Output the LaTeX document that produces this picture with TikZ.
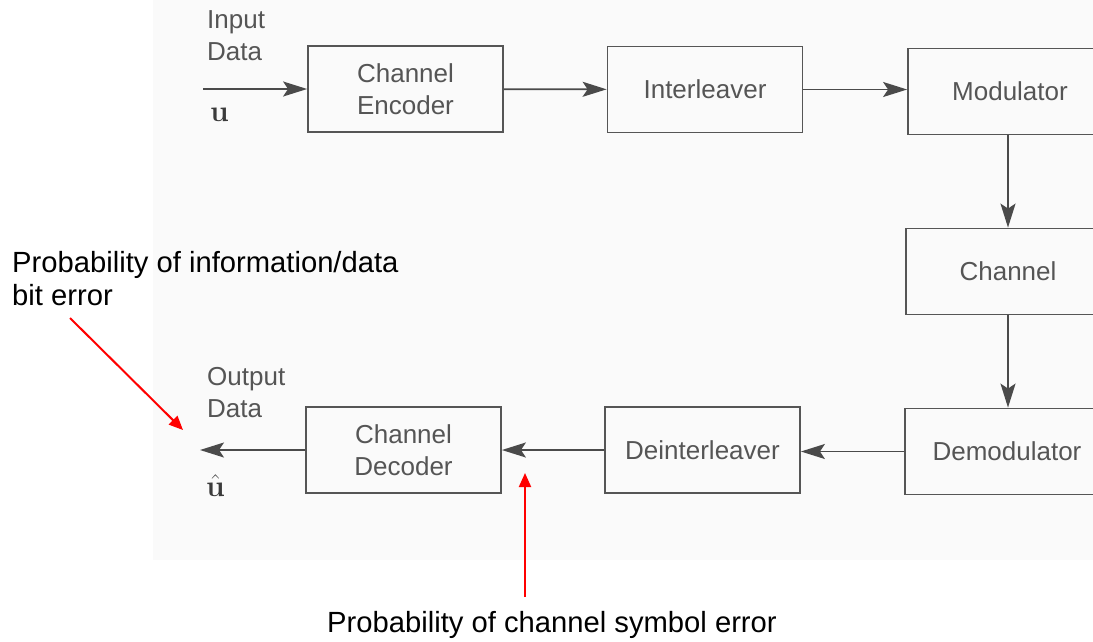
\RequirePackage{fix-cm}
\documentclass[tikz,border=0pt]{standalone}
\usepackage[no-math]{fontspec}
\setmainfont{Liberation Sans}
\usetikzlibrary{arrows.meta}
\definecolor{scan}{HTML}{FAFAFA}
\definecolor{ink}{HTML}{555555}
\definecolor{wire}{HTML}{4A4A4A}
\tikzset{
  block/.style = {draw=ink, line width=1.8pt, minimum width=195pt, minimum height=86pt, inner sep=0pt, align=center, text=ink, font=\fontsize{26}{32}\selectfont},
  wblock/.style = {block, minimum width=204pt},
  tag/.style = {anchor=base west, inner sep=0pt, align=left, text=ink, font=\fontsize{26}{32}\selectfont},
  sym/.style = {anchor=base west, inner sep=0pt, text=ink!70!black, font=\fontsize{30}{30}\selectfont},
  flow/.style = {draw=wire, line width=1.8pt, -{Stealth[length=24pt,width=15pt,inset=5pt]}},
  note/.style = {anchor=base west, inner sep=0pt, align=left, font=\fontsize{29.2}{33}\selectfont},
  pointer/.style = {draw=red, line width=2pt, -{Triangle[length=14pt,width=12pt]}},
}

\begin{document}
\begin{tikzpicture}[x=1pt,y=-1pt]
\useasboundingbox (0,0) rectangle (1093,641);
\fill [scan] (153,0) rectangle (1093,560);

% transmitter side
\node [block] (enc) at (405.5,89) {Channel\\Encoder};
\node [block] (intl) at (705,89.5) {Interleaver};
\node [wblock] (mod) at (1010,91.5) {Modulator};
\node [wblock] (chan) at (1008,271.5) {Channel};
% receiver side
\node [wblock] (demod) at (1007,451.5) {Demodulator};
\node [block] (deint) at (702.5,450) {Deinterleaver};
\node [block] (dec) at (403.5,450) {Channel\\Decoder};

\coordinate (src) at (203,89);
\coordinate (sink) at (200,450);

\draw [flow] (src) -- (enc.west);
\draw [flow] (enc) -- (intl);
\draw [flow] (intl.east) -- (intl.east -| mod.west);
\draw [flow] (mod.south -| chan.north) -- (chan.north);
\draw [flow] (chan.south) -- (chan.south |- demod.north);
\draw [flow] (demod.west) -- (demod.west -| deint.east);
\draw [flow] (deint) -- (dec);
\draw [flow] (dec.west) -- (sink);

% data labels (base is the last line)
\node [tag] (inlbl) at (207,60) {Input\\Data};
\node [sym] (u) at (210,121) {$\mathbf{u}$};
\node [tag] (outlbl) at (207,417) {Output\\Data};
\node [sym] (uhat) at (206,496) {$\hat{\mathbf{u}}$};

% error probabilities
\node [note] (biterr) at (12,305) {Probability of information/data\\bit error};
\node [note] (symerr) at (327,632) {Probability of channel symbol error};
\coordinate (bitfrom) at (70,318);
\coordinate (bitto) at (183,430);
\coordinate (symfrom) at (525,597);
\coordinate (symto) at (525,473);
\draw [pointer] (bitfrom) -- (bitto);
\draw [pointer] (symfrom) -- (symto);
\end{tikzpicture}
\end{document}
